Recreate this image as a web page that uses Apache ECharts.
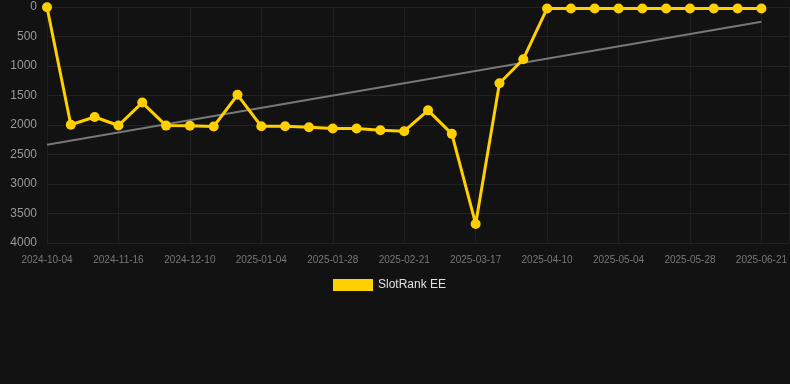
<!DOCTYPE html>
<html><head><meta charset="utf-8">
<script src="https://cdn.jsdelivr.net/npm/echarts@6/dist/echarts.min.js"></script>
<style>html,body{margin:0;padding:0;background:#121212;}#c{width:790px;height:384px;}</style>
</head><body><div id="c"></div>
<script>
var categories = ['2024-10-04','2024-10-18','2024-11-02','2024-11-16','2024-11-24','2024-12-02','2024-12-10','2024-12-18','2024-12-26','2025-01-04','2025-01-12','2025-01-20','2025-01-28','2025-02-05','2025-02-13','2025-02-21','2025-03-01','2025-03-09','2025-03-17','2025-03-25','2025-04-02','2025-04-10','2025-04-18','2025-04-26','2025-05-04','2025-05-12','2025-05-20','2025-05-28','2025-06-05','2025-06-13','2025-06-21'];
var rankValues = [5,1995,1865,2008,1620,2010,2012,2025,1488,2022,2022,2037,2058,2058,2088,2105,1752,2150,3677,1292,885,25,25,25,25,25,25,25,25,25,25];
var trendStart = 2335;
var trendEnd = 250;
var yTicks = [0,500,1000,1500,2000,2500,3000,3500,4000];

var last = categories.length - 1;
var rankData = rankValues.map(function(v, i){ return [i, v]; });
var trendData = [[0, trendStart], [last, trendEnd]];

var chart = echarts.init(document.getElementById('c'));
chart.setOption({
  backgroundColor: '#121212',
  animation: false,
  grid: {left: 47, right: 0, top: 7, bottom: 141},
  legend: {
    data: ['SlotRank EE'], top: 274, left: 328,
    itemWidth: 40, itemHeight: 12, icon: 'rect',
    textStyle: {color: '#e0e0e0', fontSize: 12, fontFamily: 'Liberation Sans, Arial, sans-serif'}
  },
  xAxis: {
    type: 'value', min: 0, max: last + 1.175, interval: 3,
    axisLine: {show: false}, axisTick: {show: false},
    axisLabel: {color: '#777', fontSize: 10, margin: 12, fontFamily: 'Liberation Sans, Arial, sans-serif',
      showMaxLabel: false,
      formatter: function(v){ return (Number.isInteger(v) && categories[v]) ? categories[v] : ''; }},
    splitLine: {show: true, lineStyle: {color: '#1f1f1f', width: 1}}
  },
  yAxis: {
    type: 'value', inverse: true, min: yTicks[0], max: yTicks[yTicks.length-1], interval: 500,
    axisLine: {show: false}, axisTick: {show: false},
    axisLabel: {color: '#999', fontSize: 12, margin: 10, fontFamily: 'Liberation Sans, Arial, sans-serif',
      formatter: function(v){ return String(v); }},
    splitLine: {lineStyle: {color: '#222', width: 1}}
  },
  series: [
    {
      name: 'SlotRank EE', type: 'line', data: rankData,
      symbol: 'circle', symbolSize: 10,
      itemStyle: {color: '#FFD000'},
      lineStyle: {color: '#FFD000', width: 3},
      z: 3
    },
    {
      name: 'trend', type: 'line', data: trendData,
      symbol: 'none', lineStyle: {color: '#777', width: 2},
      z: 2
    }
  ]
});
</script>
</body></html>
